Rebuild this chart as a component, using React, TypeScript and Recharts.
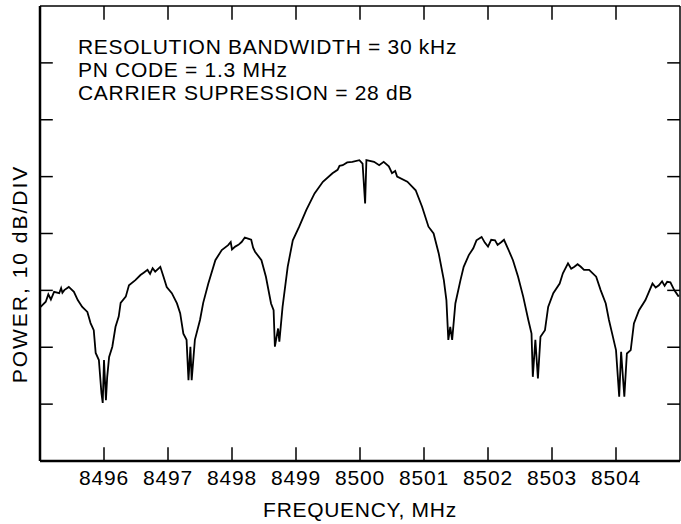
import { LineChart, Line, XAxis, YAxis, ReferenceLine } from "recharts"

// spectrum trace: frequency (MHz) and power (dB above bottom edge)
const freq = [
  8495.01, 8495.09, 8495.13, 8495.17, 8495.22, 8495.3, 8495.33, 8495.35, 8495.38, 8495.45, 8495.53, 8495.59, 8495.66, 8495.74,
  8495.79, 8495.84, 8495.87, 8495.92, 8495.96, 8495.98, 8496.0, 8496.03, 8496.05, 8496.08, 8496.13, 8496.18, 8496.23, 8496.26,
  8496.34, 8496.39, 8496.49, 8496.57, 8496.62, 8496.68, 8496.72, 8496.76, 8496.8, 8496.88, 8496.93, 8496.98, 8497.06, 8497.14, 8497.19,
  8497.24, 8497.29, 8497.32, 8497.35, 8497.37, 8497.42, 8497.5, 8497.55, 8497.63, 8497.74, 8497.84, 8497.94,
  8497.98, 8498.0, 8498.05, 8498.1, 8498.15, 8498.2, 8498.25, 8498.3, 8498.33, 8498.36, 8498.46, 8498.53, 8498.61,
  8498.65, 8498.67, 8498.72, 8498.74, 8498.79, 8498.87, 8498.95,
  8499.05, 8499.16, 8499.29, 8499.42, 8499.57, 8499.65, 8499.68, 8499.73, 8499.8, 8499.88, 8499.99, 8500.04, 8500.08,
  8500.1, 8500.22, 8500.3, 8500.37, 8500.45, 8500.48, 8500.5, 8500.55, 8500.58, 8500.74, 8500.87, 8500.97, 8501.07, 8501.15, 8501.23, 8501.31,
  8501.35, 8501.38, 8501.41, 8501.44, 8501.49, 8501.57, 8501.62, 8501.7, 8501.77,
  8501.82, 8501.9, 8501.95, 8502.0, 8502.05, 8502.11, 8502.15, 8502.21, 8502.25, 8502.31, 8502.39, 8502.47, 8502.55,
  8502.63, 8502.68, 8502.7, 8502.74, 8502.78, 8502.82, 8502.89, 8502.94, 8503.02, 8503.12,
  8503.17, 8503.25, 8503.3, 8503.35, 8503.4, 8503.45, 8503.5, 8503.58, 8503.69, 8503.76, 8503.84,
  8503.89, 8503.94, 8504.0, 8504.05, 8504.08, 8504.13, 8504.17, 8504.23, 8504.28, 8504.36, 8504.46,
  8504.57, 8504.62, 8504.67, 8504.72, 8504.76, 8504.8, 8504.85, 8504.91, 8504.98,
]
const power = [
  27.1, 28.0, 29.3, 28.4, 29.75, 29.5, 30.4, 29.6, 30.05, 30.6, 29.75, 28.3, 27.1, 26.2,
  24.25, 23.0, 19.0, 17.75, 11.95, 10.2, 17.75, 10.7, 14.8, 18.3, 20.1, 23.6, 25.4, 27.8,
  28.9, 30.9, 31.8, 32.7, 33.1, 33.6, 32.9, 33.9, 33.3, 34.15, 32.4, 30.6, 29.5, 27.7, 26.0,
  22.4, 21.3, 14.2, 20.1, 14.2, 21.3, 24.8, 27.8, 31.2, 35.3, 37.1, 37.95,
  38.5, 37.2, 37.7, 38.0, 38.5, 39.3, 39.1, 38.9, 37.5, 36.8, 35.3, 32.4, 27.7,
  26.5, 20.1, 23.3, 21.0, 27.1, 34.15, 38.8,
  41.2, 44.1, 47.05, 49.1, 50.6, 51.2, 51.9, 52.0, 52.5, 52.6, 52.9, 52.3, 45.3,
  52.9, 52.6, 52.0, 52.6, 51.8, 51.1, 50.6, 51.0, 50.0, 49.1, 47.6, 44.7, 41.2, 40.0, 36.5, 31.8,
  28.3, 21.3, 23.6, 21.3, 27.7, 31.8, 34.15, 36.2, 37.4,
  38.8, 39.4, 38.4, 37.7, 38.9, 38.8, 38.0, 38.5, 38.9, 37.4, 35.3, 32.4, 28.9,
  24.8, 22.4, 14.8, 21.3, 14.5, 21.85, 23.0, 27.1, 29.5, 31.2,
  33.0, 34.75, 33.8, 34.15, 34.6, 34.15, 33.6, 33.6, 32.4, 30.05, 27.7,
  24.8, 22.4, 19.5, 11.3, 19.2, 11.3, 18.9, 19.5, 24.2, 26.5, 28.3,
  31.2, 30.5, 30.9, 31.6, 30.8, 31.5, 31.4, 30.05, 28.9,
]

const xTicks = [8496, 8497, 8498, 8499, 8500, 8501, 8502, 8503, 8504]
const yTicks = [10, 20, 30, 40, 50, 60, 70]
const notes = ["RESOLUTION BANDWIDTH = 30 kHz", "PN CODE = 1.3 MHz", "CARRIER SUPRESSION = 28 dB"]

const X_MIN = 8495
const X_MAX = 8505
const Y_MAX = 80

const font = "'Liberation Sans', Arial, Helvetica, sans-serif"

export default function App() {
  const data = freq.map((f, i) => ({ f, p: power[i] }))

  return (
    <div style={{ position: "absolute", left: 0, top: 0, width: 681, height: 524, background: "#fff", fontFamily: font }}>
      <LineChart width={681} height={524} data={data} margin={{ top: 6, right: 1, bottom: 0, left: 40 }}>
        <XAxis
          type="number"
          dataKey="f"
          domain={[X_MIN, X_MAX]}
          ticks={xTicks}
          allowDataOverflow
          height={63}
          tickLine={false}
          tickSize={6}
          tickMargin={3}
          axisLine={{ stroke: "#000", strokeWidth: 2.5 }}
          tick={{ fill: "#000", fontSize: 21, fontFamily: font, letterSpacing: 0.8 }}
          label={{ value: "FREQUENCY, MHz", position: "insideBottom", offset: 7, fill: "#000", fontSize: 21, fontFamily: font, letterSpacing: 0.7 }}
        />
        <YAxis hide type="number" domain={[0, Y_MAX]} allowDataOverflow />

        {/* frame */}
        <ReferenceLine x={X_MIN} stroke="#000" strokeWidth={2.5} />
        <ReferenceLine x={X_MAX} stroke="#000" strokeWidth={1.5} />
        <ReferenceLine y={Y_MAX} stroke="#000" strokeWidth={1.5} />

        {/* inward ticks */}
        {xTicks.map((t) => (
          <ReferenceLine key={`b${t}`} segment={[{ x: t, y: 0 }, { x: t, y: 2.4 }]} stroke="#000" strokeWidth={1.5} />
        ))}
        {xTicks.map((t) => (
          <ReferenceLine key={`t${t}`} segment={[{ x: t, y: Y_MAX }, { x: t, y: Y_MAX - 2.4 }]} stroke="#000" strokeWidth={1.5} />
        ))}
        {yTicks.map((v) => (
          <ReferenceLine key={`l${v}`} segment={[{ x: X_MIN, y: v }, { x: X_MIN + 0.2, y: v }]} stroke="#000" strokeWidth={1.5} />
        ))}
        {yTicks.map((v) => (
          <ReferenceLine key={`r${v}`} segment={[{ x: X_MAX - 0.2, y: v }, { x: X_MAX, y: v }]} stroke="#000" strokeWidth={1.5} />
        ))}

        <Line type="linear" dataKey="p" stroke="#000" strokeWidth={1.8} dot={false} isAnimationActive={false} />
      </LineChart>

      {/* annotation block */}
      <div style={{ position: "absolute", left: 78, top: 35, fontSize: 21, lineHeight: "23px", letterSpacing: 0.7, color: "#000", whiteSpace: "nowrap" }}>
        {notes.map((n) => (
          <div key={n}>{n}</div>
        ))}
      </div>

      {/* y axis title */}
      <div
        style={{
          position: "absolute",
          left: 20,
          top: 274,
          transform: "translate(-50%, -50%) rotate(-90deg)",
          fontSize: 21,
          letterSpacing: 2,
          color: "#000",
          whiteSpace: "nowrap",
        }}
      >
        POWER, 10 dB/DIV
      </div>
    </div>
  )
}
